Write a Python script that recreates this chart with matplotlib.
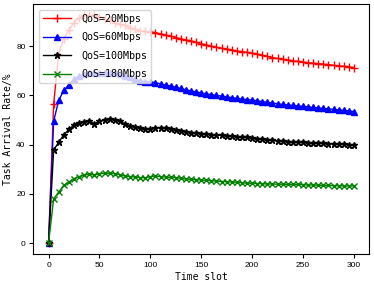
import matplotlib
matplotlib.use("Agg")
import matplotlib.pyplot as plt

# time slots (one point every 5 slots)
time_slot = list(range(0, 301, 5))

rate_20 = [0, 56.5, 77, 83, 86.5, 89.5, 91.5, 92.5, 92.5, 92.5, 92, 91, 90.5, 89.5, 89, 88.5,
           87.5, 87, 86, 86, 85.8, 85.5, 85, 84.5, 84, 83.5, 83, 82.5, 82.2, 81.5, 81,
           80.5, 80, 79.5, 79.2, 78.8, 78.5, 78, 77.8, 77.5, 77.2, 76.8, 76.3, 75.8, 75.3,
           75, 74.7, 74.4, 74, 73.8, 73.5, 73.3, 73.1, 72.9, 72.7, 72.5, 72.2, 72, 71.8,
           71.6, 71.3]

rate_60 = [0, 49.5, 58, 62, 64.3, 66.5, 68, 68.5, 69, 69, 69, 69, 69.2, 69, 68.5, 68,
           67.5, 66.5, 66, 65.6, 65.5, 65.2, 64.7, 64.2, 63.8, 63.3, 62.8, 62.3, 61.8,
           61.4, 61, 60.6, 60.3, 60, 59.7, 59.4, 59.1, 58.8, 58.5, 58.3, 58.1, 57.8,
           57.5, 57.2, 56.9, 56.6, 56.3, 56.1, 55.9, 55.7, 55.5, 55.3, 55.1, 54.9, 54.7,
           54.5, 54.3, 54.1, 53.9, 53.7, 53.4]

rate_100 = [0, 37.8, 41, 44, 46.2, 48, 48.9, 49.3, 49.7, 48.4, 49.5, 50, 50.3, 50, 49.4,
            48.5, 47.6, 47, 46.6, 46.3, 46.5, 46.8, 46.9, 46.6, 46.2, 45.8, 45.4, 45.1,
            44.9, 44.7, 44.5, 44.3, 44.1, 43.9, 43.7, 43.5, 43.3, 43.2, 43.1, 42.9, 42.7,
            42.4, 42.1, 41.9, 41.7, 41.5, 41.3, 41.2, 41.1, 41, 40.9, 40.8, 40.7, 40.6,
            40.5, 40.4, 40.3, 40.2, 40.1, 40, 39.9]

rate_180 = [0, 18, 20.7, 23.5, 24.8, 26.2, 27, 27.6, 28, 27.6, 28.2, 28.3, 28.4, 28.2,
            27.8, 27.2, 27, 26.8, 26.6, 26.5, 27, 27.2, 27, 26.8, 26.7, 26.6, 26.3, 26,
            25.9, 25.7, 25.6, 25.5, 25.3, 25.2, 25, 24.9, 24.8, 24.7, 24.5, 24.3, 24.3,
            24.2, 24.1, 24, 24, 23.9, 23.9, 23.8, 23.8, 23.8, 23.7, 23.6, 23.6, 23.5,
            23.4, 23.4, 23.3, 23.3, 23.2, 23.2, 23.2]

labels = ["QoS=20Mbps", "QoS=60Mbps", "QoS=100Mbps", "QoS=180Mbps"]

fig = plt.figure(figsize=(3.74, 2.84), dpi=100)
ax = fig.add_axes([0.089, 0.104, 0.898, 0.882])

ax.plot(time_slot, rate_20, color="red", marker="+", markersize=5.5, linewidth=1,
        label=labels[0])
ax.plot(time_slot, rate_60, color="blue", marker="^", markersize=4.5, linewidth=1,
        label=labels[1])
ax.plot(time_slot, rate_100, color="black", marker="*", markersize=5, linewidth=1,
        label=labels[2])
ax.plot(time_slot, rate_180, color="green", marker="x", markersize=4, linewidth=1,
        label=labels[3])

ax.set_xticks([0, 50, 100, 150, 200, 250, 300])
ax.set_yticks([0, 20, 40, 60, 80])
ax.tick_params(labelsize=6, length=3, width=0.8, pad=2.5)
for lbl in ax.get_xticklabels() + ax.get_yticklabels():
    lbl.set_family("Liberation Sans")

ax.set_xlabel("Time slot", fontsize=7, family="DejaVu Sans Mono", labelpad=2)
ax.set_ylabel("Task Arrival Rate/%", fontsize=7, family="DejaVu Sans Mono", labelpad=2)

ax.legend(loc="upper left", prop={"family": "DejaVu Sans Mono", "size": 7.2},
          handlelength=2.8, handletextpad=1.0, labelspacing=0.85,
          borderaxespad=0.6, borderpad=0.4)

fig.savefig("out.png", dpi=100)
